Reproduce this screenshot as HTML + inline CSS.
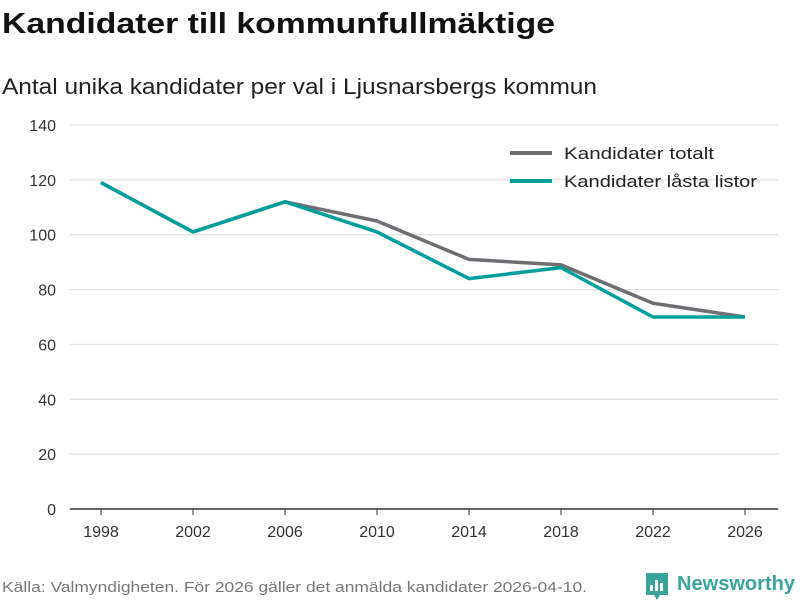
<!DOCTYPE html>
<html><head><meta charset="utf-8"><style>
body{margin:0;background:#fff;width:800px;height:600px;overflow:hidden;font-family:"Liberation Sans",sans-serif}
</style></head><body>
<svg width="800" height="600" xmlns="http://www.w3.org/2000/svg" font-family="Liberation Sans, sans-serif">
<text x="2" y="33" font-size="29" font-weight="bold" fill="#111" textLength="553" lengthAdjust="spacingAndGlyphs">Kandidater till kommunfullmäktige</text>
<text x="2" y="94" font-size="22" fill="#222" textLength="595" lengthAdjust="spacingAndGlyphs">Antal unika kandidater per val i Ljusnarsbergs kommun</text>
<g id="grid"></g><g id="yticks"></g><g id="xticks"></g><g id="lines"></g>
<g>
<line x1="510" y1="153" x2="552" y2="153" stroke="#6e6e73" stroke-width="4"/>
<text x="564" y="159" font-size="17" fill="#222" textLength="150" lengthAdjust="spacingAndGlyphs">Kandidater totalt</text>
<line x1="510" y1="181" x2="552" y2="181" stroke="#00a09a" stroke-width="4"/>
<text x="564" y="187" font-size="17" fill="#222" textLength="193" lengthAdjust="spacingAndGlyphs">Kandidater låsta listor</text>
</g>
<text x="2" y="592" font-size="15" fill="#777" textLength="585" lengthAdjust="spacingAndGlyphs">Källa: Valmyndigheten. För 2026 gäller det anmälda kandidater 2026-04-10.</text>
<g>
<path d="M646 573 h22 v22 h-8 l-3 5 l-3 -5 h-8 z" fill="#3aa59a"/>
<rect x="650" y="585" width="3" height="6" fill="#fff"/><rect x="655" y="580" width="3" height="11" fill="#fff"/><rect x="660" y="583" width="3" height="8" fill="#fff"/>
<text x="677" y="590" font-size="20" font-weight="bold" fill="#3aa59a" textLength="118" lengthAdjust="spacingAndGlyphs">Newsworthy</text>
</g>
</svg>
<script>
const years=[1998,2002,2006,2010,2014,2018,2022,2026];
const totalt=[119,101,112,105,91,89,75,70];
const lasta=[119,101,112,101,84,88,70,70];
const yTicks=[0,20,40,60,80,100,120,140];
const NS="http://www.w3.org/2000/svg";
const xs=y=>101+(y-1998)*(745-101)/28;
const ys=v=>509-v*(509-125)/140;
function mk(tag,attrs,parent){const e=document.createElementNS(NS,tag);for(const k in attrs)e.setAttribute(k,attrs[k]);document.getElementById(parent).appendChild(e);return e;}
yTicks.forEach(t=>{
  if(t>0){const g=mk('line',{x1:70,x2:778,y1:ys(t),y2:ys(t),stroke:'#dcdcdc','stroke-width':1},'grid');
  
  }
  const l=mk('text',{x:56,y:ys(t)+6,'font-size':16,fill:'#333','text-anchor':'end'},'yticks');l.textContent=t;
  
  
});
const ax=mk('line',{x1:70,x2:778,y1:509,y2:509,stroke:'#333','stroke-width':1.5},'grid');


years.forEach(y=>{
  const tk=mk('line',{x1:xs(y),x2:xs(y),y1:509,y2:515,stroke:'#333','stroke-width':1},'xticks');
  
  
  const l=mk('text',{x:xs(y),y:537,'font-size':16,fill:'#333','text-anchor':'middle'},'xticks');l.textContent=y;
  
  
});
function line(vals,color,name){
  const p=mk('polyline',{points:vals.map((v,i)=>xs(years[i])+','+ys(v)).join(' '),fill:'none',stroke:color,'stroke-width':3.5,'stroke-linejoin':'round'},'lines');
  
  
}
line(totalt,'#6e6e73','line-kandidater-totalt');
line(lasta,'#00a09a','line-kandidater-lasta-listor');
</script>
</body></html>
